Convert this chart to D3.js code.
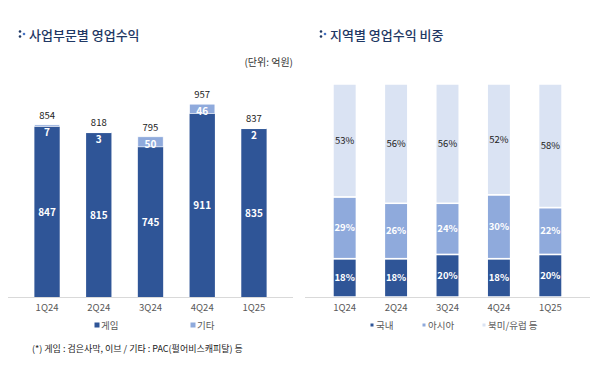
<!DOCTYPE html>
<html>
<head>
<meta charset="utf-8">
<script src="https://cdn.jsdelivr.net/npm/d3@7"></script>
<style>
  body { margin: 0; background: #fff; }
  svg text { font-family: "Noto Sans CJK KR", "Noto Sans", sans-serif; }
</style>
</head>
<body>
<svg width="600" height="369"></svg>
<script>
let quarters = ['1Q24', '2Q24', '3Q24', '4Q24', '1Q25']
let game = [847, 815, 745, 911, 835]
let etc = [7, 3, 50, 46, 2]
let domestic = [18, 18, 20, 18, 20]
let asia = [29, 26, 24, 30, 22]
let western = [53, 56, 56, 52, 58]

const dark = '#2F5597', mid = '#8FAADC', light = '#DAE3F3'

let svg = d3.select('svg')

// titles
function title(x, txt){
    let g = svg.append('g').attr('transform', `translate(${x},35)`)
    g.append('circle').attr('cx', 0).attr('cy', -3.5).attr('r', 1.3).attr('fill', '#1F3864')
    g.append('circle').attr('cx', 0).attr('cy', 1.5).attr('r', 1.3).attr('fill', '#1F3864')
    g.append('circle').attr('cx', 4).attr('cy', -1).attr('r', 1.3).attr('fill', '#4472C4')
    g.append('text').attr('x', 9).attr('y', 5)
        .attr('font-size', 13).attr('font-weight', 500).attr('fill', '#1F3864')
        .text(txt)
}
title(20, '사업부문별 영업수익')
title(321, '지역별 영업수익 비중')

svg.append('text').attr('x', 293).attr('y', 66).attr('text-anchor', 'end')
    .attr('font-size', 10).attr('fill', '#333').text('(단위: 억원)')

// ---- left chart ----
const x1 = d3.scaleBand().domain(quarters).range([8, 293]).padding(0.51)
const y1 = d3.scaleLinear().domain([0, 1000]).range([297, 95.5])

let left = svg.append('g')
left.selectAll('rect.game').data(quarters).enter().append('rect')
    .attr('x', d => x1(d)).attr('width', x1.bandwidth())
    .attr('y', (d, i) => y1(game[i])).attr('height', (d, i) => y1(0) - y1(game[i]))
    .attr('fill', dark)
left.selectAll('rect.etc').data(quarters).enter().append('rect')
    .attr('x', d => x1(d)).attr('width', x1.bandwidth())
    .attr('y', (d, i) => y1(game[i] + etc[i])).attr('height', (d, i) => y1(game[i]) - y1(game[i] + etc[i]))
    .attr('fill', mid).attr('stroke', '#fff').attr('stroke-width', 0.6)

left.selectAll('text.game').data(quarters).enter().append('text')
    .attr('x', d => x1(d) + x1.bandwidth() / 2)
    .attr('y', (d, i) => (y1(game[i]) + y1(0)) / 2 + 4)
    .attr('text-anchor', 'middle').attr('font-size', 10).attr('font-weight', 700).attr('fill', '#fff')
    .text((d, i) => game[i])
left.selectAll('text.etc').data(quarters).enter().append('text')
    .attr('x', d => x1(d) + x1.bandwidth() / 2)
    .attr('y', (d, i) => Math.max((y1(game[i] + etc[i]) + y1(game[i])) / 2, y1(game[i] + etc[i]) + 7) + 4)
    .attr('text-anchor', 'middle').attr('font-size', 10).attr('font-weight', 700).attr('fill', '#fff')
    .text((d, i) => etc[i])
left.selectAll('text.total').data(quarters).enter().append('text')
    .attr('x', d => x1(d) + x1.bandwidth() / 2)
    .attr('y', (d, i) => y1(game[i] + etc[i]) - 6)
    .attr('text-anchor', 'middle').attr('font-size', 9.5).attr('fill', '#222')
    .text((d, i) => game[i] + etc[i])

let ax1 = svg.append('g').attr('transform', 'translate(0,297)')
    .call(d3.axisBottom(x1).tickSize(0).tickPadding(7))
ax1.select('.domain').attr('d', 'M8,0.5H293').attr('stroke', '#d9d9d9')
ax1.selectAll('text').attr('font-size', 9.5).attr('fill', '#595959')
    .attr('font-family', '"Noto Sans CJK KR", sans-serif')

// ---- right chart ----
const x2 = d3.scaleBand().domain(quarters).range([305, 590]).padding(0.544)
const y2 = d3.scaleLinear().domain([0, 100]).range([297, 84])

let series = [
    { vals: domestic, color: dark, txt: '#fff', weight: 700 },
    { vals: asia, color: mid, txt: '#fff', weight: 700 },
    { vals: western, color: light, txt: '#222', weight: 400 }
]
let right = svg.append('g')
series.forEach(function(s, k){
    let base = quarters.map((q, i) => series.slice(0, k).reduce((a, b) => a + b.vals[i], 0))
    right.selectAll('rect.s' + k).data(quarters).enter().append('rect')
        .attr('x', d => x2(d)).attr('width', x2.bandwidth())
        .attr('y', (d, i) => y2(base[i] + s.vals[i]))
        .attr('height', (d, i) => y2(base[i]) - y2(base[i] + s.vals[i]))
        .attr('fill', s.color).attr('stroke', '#fff').attr('stroke-width', 1.5)
    right.selectAll('text.s' + k).data(quarters).enter().append('text')
        .attr('x', d => x2(d) + x2.bandwidth() / 2)
        .attr('y', (d, i) => y2(base[i] + s.vals[i] / 2) + 3.5)
        .attr('text-anchor', 'middle').attr('font-size', 9.5)
        .attr('font-weight', s.weight).attr('fill', s.txt)
        .text((d, i) => s.vals[i] + '%')
})

let ax2 = svg.append('g').attr('transform', 'translate(0,297)')
    .call(d3.axisBottom(x2).tickSize(0).tickPadding(7))
ax2.select('.domain').attr('d', 'M305,0.5H590').attr('stroke', '#d9d9d9')
ax2.selectAll('text').attr('font-size', 9.5).attr('fill', '#595959')
    .attr('font-family', '"Noto Sans CJK KR", sans-serif')

// legends
let leg1 = [['게임', dark, 97], ['기타', mid, 193]]
leg1.forEach(function(l){
    svg.append('rect').attr('x', l[2] - 2.5).attr('y', 322.5).attr('width', 5).attr('height', 5).attr('fill', l[1])
    svg.append('text').attr('x', l[2] + 4).attr('y', 329).attr('font-size', 9.5).attr('fill', '#595959').text(l[0])
})
let leg2 = [['국내', dark, 372], ['아시아', mid, 424], ['북미/유럽 등', light, 484]]
leg2.forEach(function(l){
    svg.append('rect').attr('x', l[2] - 1.5).attr('y', 323.5).attr('width', 3).attr('height', 3).attr('fill', l[1])
    svg.append('text').attr('x', l[2] + 4).attr('y', 329).attr('font-size', 9.5).attr('fill', '#595959').text(l[0])
})

svg.append('text').attr('x', 32).attr('y', 352).attr('font-size', 9).attr('fill', '#222')
    .text('(*) 게임 : 검은사막, 이브 / 기타 : PAC(펄어비스캐피탈) 등')
</script>
</body>
</html>
